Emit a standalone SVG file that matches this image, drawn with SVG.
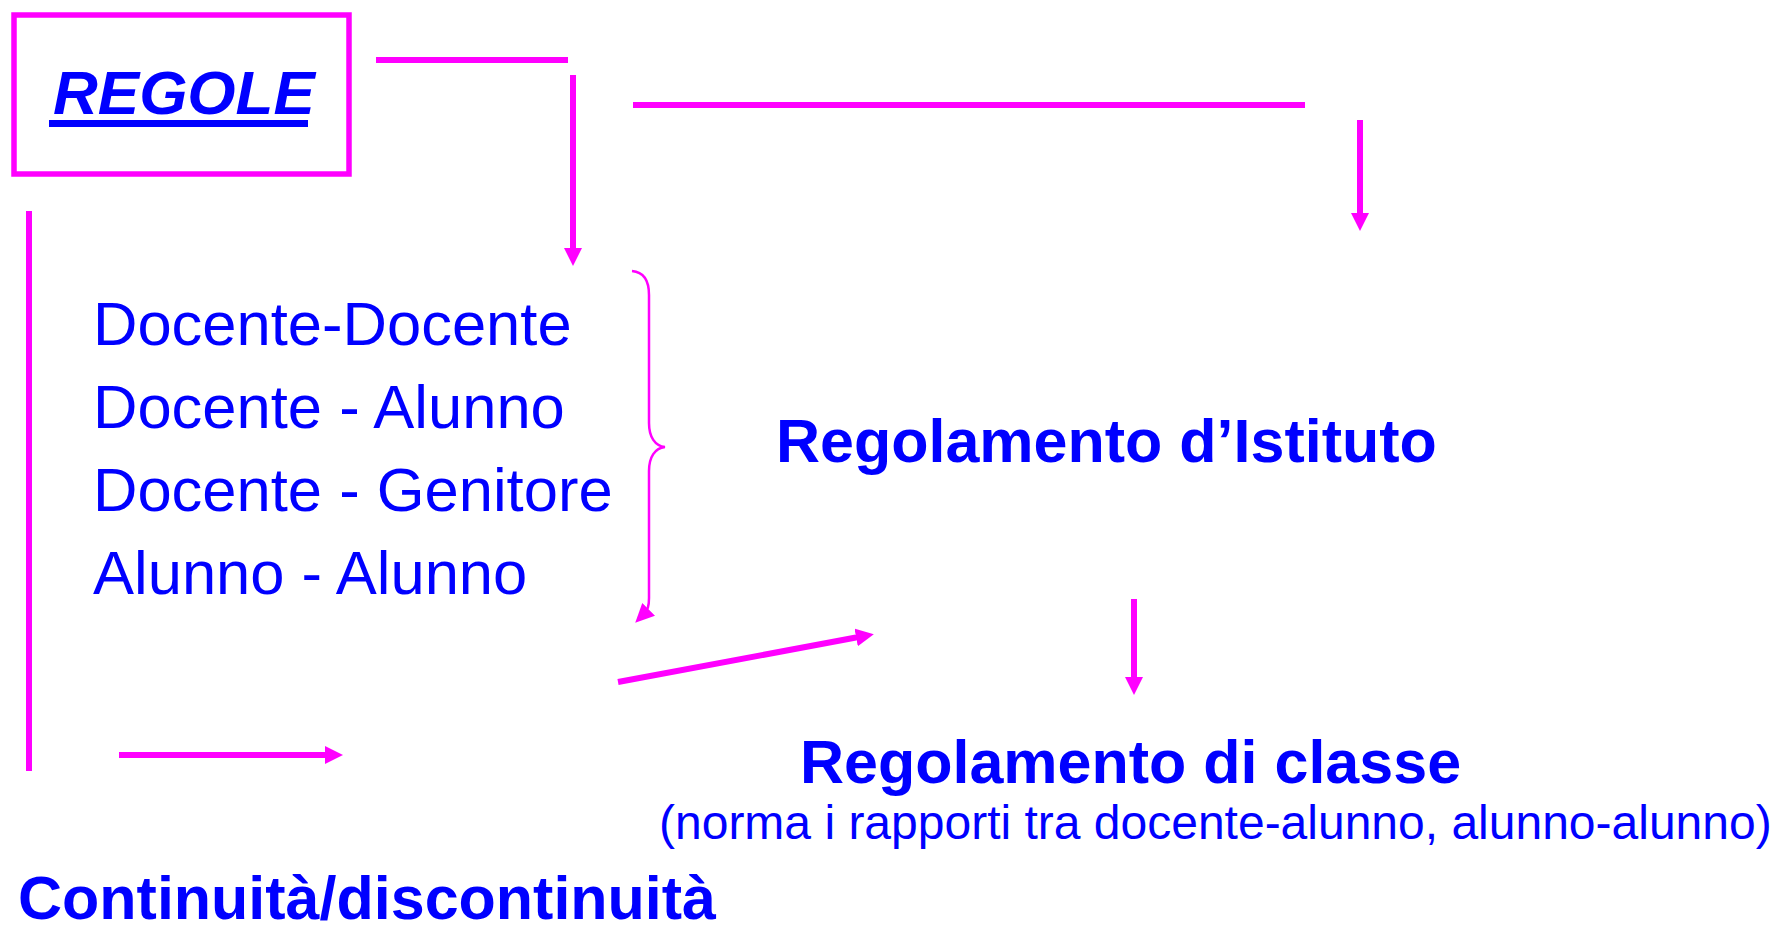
<svg xmlns="http://www.w3.org/2000/svg" width="1773" height="933" viewBox="0 0 1773 933">
  <defs>
    <style>
      .ln { stroke: #FF00FF; stroke-width: 6; fill: none; }
      .thin { stroke: #FF00FF; stroke-width: 2.5; fill: none; }
      .arr { marker-end: url(#ah); }
      .t { font-family: "Liberation Sans", Arial, sans-serif; fill: #0000FF; }
      .reg { font-size: 61.5px; }
      .bold { font-size: 61px; font-weight: bold; }
    </style>
    <marker id="ah" markerUnits="userSpaceOnUse" markerWidth="20" markerHeight="20" refX="8" refY="9" orient="auto">
      <path d="M0,0 L18,9 L0,18 z" fill="#FF00FF"/>
    </marker>
    <marker id="ahs" markerUnits="userSpaceOnUse" markerWidth="22" markerHeight="20" refX="8" refY="9" orient="auto">
      <path d="M0,0 L19,9 L0,18 z" fill="#FF00FF"/>
    </marker>
  </defs>
  <rect width="1773" height="933" fill="#FFFFFF"/>

  <g id="regole">
    <rect x="14" y="15" width="335" height="159" fill="none" stroke="#FF00FF" stroke-width="5.5"/>
    <text class="t" x="53" y="114" font-size="62" font-weight="bold" font-style="italic">REGOLE</text>
    <rect x="49" y="120" width="259" height="7" fill="#0000FF"/>
  </g>

  <g id="relazioni">
    <text class="t reg" x="93" y="345">Docente-Docente</text>
    <text class="t reg" x="93" y="428">Docente - Alunno</text>
    <text class="t reg" x="93" y="511">Docente - Genitore</text>
    <text class="t reg" x="93" y="594">Alunno - Alunno</text>
  </g>

  <g id="regolamento-istituto">
    <text class="t bold" x="776" y="462">Regolamento d’Istituto</text>
  </g>

  <g id="regolamento-classe">
    <text class="t bold" x="800" y="783">Regolamento di classe</text>
    <text class="t" x="659" y="839" font-size="48">(norma i rapporti tra docente-alunno, alunno-alunno)</text>
  </g>

  <g id="continuita">
    <text class="t bold" x="18" y="919">Continuità/discontinuità</text>
  </g>

  <g id="connectors">
    <line class="ln" x1="376" y1="60" x2="568" y2="60"/>
    <line class="ln arr" x1="573" y1="75" x2="573" y2="256"/>
    <line class="ln" x1="633" y1="105" x2="1305" y2="105"/>
    <line class="ln arr" x1="1360" y1="120" x2="1360" y2="221"/>
    <line class="ln" x1="29" y1="211" x2="29" y2="771"/>
    <line class="ln arr" x1="119" y1="755" x2="333" y2="755"/>
    <line class="ln arr" x1="618" y1="682" x2="864" y2="636"/>
    <line class="ln arr" x1="1134" y1="599" x2="1134" y2="685"/>
    <path class="thin" marker-end="url(#ahs)" d="M632,271 C644,272 649,281 649,295 L649,423 C649,437 655,446 665,447 C655,448 649,457 649,471 L649,598 C649,606 648,610 643,615"/>
  </g>
</svg>
